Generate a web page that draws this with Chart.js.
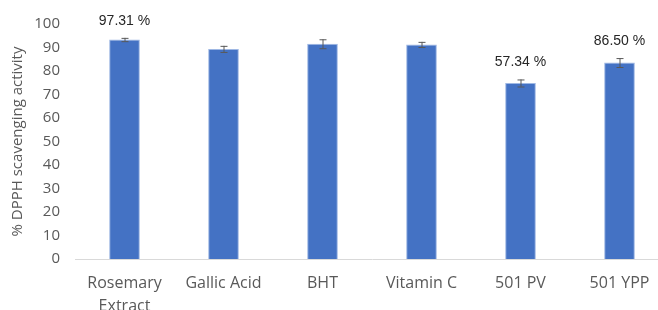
<!DOCTYPE html>
<html>
<head>
<meta charset="utf-8">
<script src="https://cdn.jsdelivr.net/npm/chart.js@4.4.0/dist/chart.umd.min.js"></script>
<style>
html,body{margin:0;padding:0;background:#fff;overflow:hidden;width:658px;height:310px;}
#wrap{position:absolute;left:0;top:0;width:680px;height:310px;}
</style>
</head>
<body>
<div id="wrap"><canvas id="c" width="680" height="310"></canvas></div>
<script>
const categories = [["Rosemary","Extract"], "Gallic Acid", "BHT", "Vitamin C", "501 PV", "501 YPP"];
const values = [93.4, 89.4, 91.6, 91.3, 74.9, 83.6];
const errors = [0.7, 1.3, 1.9, 1.1, 1.5, 1.9];
const annotations = ["97.31 %", null, null, null, "57.34 %", "86.50 %"];
const yTicks = [0,10,20,30,40,50,60,70,80,90,100];
const yTitle = "% DPPH scavenging activity";

const overlay = {
  id: 'overlay',
  afterDatasetsDraw(chart) {
    const ctx = chart.ctx;
    const meta = chart.getDatasetMeta(0);
    const y = chart.scales.y;
    ctx.save();
    meta.data.forEach((bar, i) => {
      const x = bar.x;
      const top = y.getPixelForValue(values[i] + errors[i]);
      const bot = y.getPixelForValue(values[i] - errors[i]);
      ctx.strokeStyle = '#595959';
      ctx.lineWidth = 1;
      ctx.beginPath();
      ctx.moveTo(x + 0.5, top); ctx.lineTo(x + 0.5, bot);
      ctx.moveTo(x - 3, top + 0.5); ctx.lineTo(x + 4, top + 0.5);
      ctx.moveTo(x - 3, bot + 0.5); ctx.lineTo(x + 4, bot + 0.5);
      ctx.stroke();
      if (annotations[i]) {
        ctx.fillStyle = '#262626';
        ctx.font = '14px "Liberation Sans", Arial, sans-serif';
        ctx.textAlign = 'center';
        ctx.textBaseline = 'middle';
        ctx.fillText(annotations[i], x, top - 17);
      }
    });
    ctx.restore();
  }
};

new Chart(document.getElementById('c'), {
  type: 'bar',
  data: {
    labels: categories,
    datasets: [{
      data: values,
      backgroundColor: '#4472C4',
      borderColor: '#9fb8e4',
      borderWidth: 1,
      barPercentage: 0.62,
      categoryPercentage: 0.5
    }]
  },
  options: {
    responsive: false,
    animation: false,
    layout: { padding: { top: 20, right: 11, left: 0, bottom: 0 } },
    plugins: { legend: { display: false }, tooltip: { enabled: false } },
    scales: {
      x: {
        grid: { display: false, drawTicks: false },
        border: { display: true, color: '#d9d9d9', width: 1 },
        ticks: {
          color: '#595959',
          font: { family: '"Open Sans", sans-serif', size: 16, lineHeight: 1.45 },
          padding: 13,
          maxRotation: 0,
          autoSkip: false
        },
        afterFit(s) { s.height = 51; }
      },
      y: {
        min: 0, max: 100,
        afterBuildTicks(s) { s.ticks = yTicks.map(v => ({ value: v })); },
        grid: { display: false, drawTicks: false },
        border: { display: false },
        ticks: {
          color: '#595959',
          font: { family: '"Open Sans", sans-serif', size: 15 },
          padding: 15
        },
        title: {
          display: true,
          text: yTitle,
          color: '#595959',
          font: { family: '"Open Sans", sans-serif', size: 15 },
          padding: { top: 9, bottom: 0 }
        },
        afterFit(s) { s.width = 75; }
      }
    }
  },
  plugins: [overlay]
});
</script>
</body>
</html>
